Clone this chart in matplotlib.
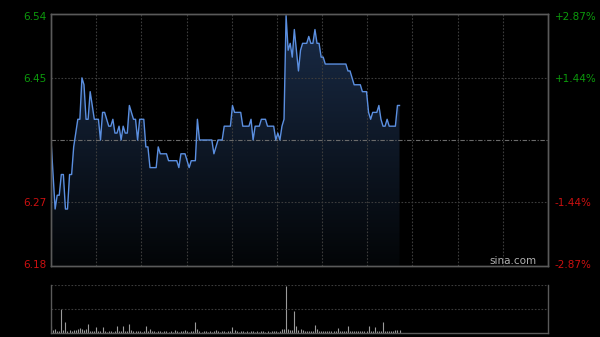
import matplotlib
matplotlib.use('Agg')
import matplotlib.pyplot as plt
import numpy as np
from matplotlib.colors import LinearSegmentedColormap

# previous close and axis range
prev_close = 6.36
y_low = 6.1775
y_high = 6.5425
n_minutes = 242

price_ticks = [6.18, 6.27, 6.45, 6.54]
price_labels = ['6.18', '6.27', '6.45', '6.54']
pct_labels = ['-2.87%', '-1.44%', '+1.44%', '+2.87%']

# minute prices (morning + part of afternoon)
prices = [
    6.36, 6.31, 6.26, 6.28, 6.28, 6.31, 6.31, 6.26, 6.26, 6.31,
    6.31, 6.35, 6.37, 6.39, 6.39, 6.45, 6.44, 6.39, 6.39, 6.43,
    6.41, 6.39, 6.39, 6.39, 6.36, 6.40, 6.40, 6.39, 6.38, 6.38,
    6.39, 6.37, 6.37, 6.38, 6.36, 6.38, 6.37, 6.37, 6.41, 6.40,
    6.39, 6.39, 6.36, 6.39, 6.39, 6.39, 6.35, 6.35, 6.32, 6.32,
    6.32, 6.32, 6.35, 6.34, 6.34, 6.34, 6.34, 6.33, 6.33, 6.33,
    6.33, 6.33, 6.32, 6.34, 6.34, 6.34, 6.33, 6.32, 6.33, 6.33,
    6.33, 6.39, 6.36, 6.36, 6.36, 6.36, 6.36, 6.36, 6.36, 6.34,
    6.35, 6.36, 6.36, 6.36, 6.38, 6.38, 6.38, 6.38, 6.41, 6.40,
    6.40, 6.40, 6.40, 6.38, 6.38, 6.38, 6.38, 6.39, 6.36, 6.38,
    6.38, 6.38, 6.39, 6.39, 6.39, 6.38, 6.38, 6.38, 6.38, 6.36,
    6.37, 6.36, 6.38, 6.39, 6.54, 6.49, 6.50, 6.48, 6.52, 6.49,
    6.46, 6.49, 6.50, 6.50, 6.50, 6.51, 6.50, 6.50, 6.52, 6.50,
    6.50, 6.48, 6.48, 6.47, 6.47, 6.47, 6.47, 6.47, 6.47, 6.47,
    6.47, 6.47, 6.47, 6.47, 6.46, 6.46, 6.45, 6.44, 6.44, 6.44,
    6.44, 6.43, 6.43, 6.43, 6.40, 6.39, 6.40, 6.40, 6.40, 6.41,
    6.39, 6.38, 6.38, 6.39, 6.38, 6.38, 6.38, 6.38, 6.41, 6.41,
]

volumes = [
    700, 300, 400, 200, 150, 2400, 300, 1100, 200, 250,
    200, 250, 300, 400, 500, 400, 300, 400, 850, 200,
    200, 200, 600, 200, 150, 600, 200, 100, 150, 200,
    100, 150, 700, 200, 150, 700, 200, 150, 850, 300,
    150, 200, 150, 150, 100, 150, 700, 200, 400, 150,
    150, 100, 200, 150, 100, 150, 200, 100, 150, 100,
    250, 150, 100, 150, 200, 300, 150, 100, 150, 200,
    1100, 400, 150, 100, 150, 200, 100, 150, 100, 150,
    250, 150, 100, 150, 200, 100, 150, 200, 600, 300,
    150, 100, 150, 200, 100, 150, 100, 150, 200, 100,
    150, 100, 200, 150, 100, 150, 100, 150, 200, 150,
    100, 150, 400, 400, 4700, 400, 300, 300, 2200, 700,
    300, 400, 300, 200, 200, 200, 200, 200, 800, 400,
    200, 150, 200, 150, 200, 150, 200, 150, 200, 500,
    200, 200, 150, 200, 700, 200, 150, 200, 150, 200,
    150, 200, 150, 200, 700, 200, 200, 600, 200, 200,
    200, 1100, 200, 200, 150, 200, 200, 300, 300, 300,
]

minutes = np.arange(len(prices))

fig = plt.figure(figsize=(6, 3.37), dpi=100, facecolor='black')
ax = fig.add_axes([0.085, 0.2107, 0.8283, 0.7478], facecolor='black')
axv = fig.add_axes([0.085, 0.0119, 0.8283, 0.1424], facecolor='black')

frame_col = '#5a5a5a'
grid_col = '#3c3c3c'
green = '#0c9a0c'
red = '#cc1010'

# gradient fill under the price line
poly = ax.fill_between(minutes, prices, y_low, color='none')
grad = np.linspace(0, 1, 256).reshape(-1, 1)
cmap = LinearSegmentedColormap.from_list('fill', ['#030507', '#1a2c48'])
img = ax.imshow(grad, cmap=cmap, aspect='auto', origin='lower',
                extent=[0, n_minutes - 1, y_low, y_high], zorder=1)
img.set_clip_path(poly.get_paths()[0], transform=ax.transData)
poly.remove()

ax.plot(minutes, prices, color='#5b8fe0', lw=1.0, zorder=3)

# grid
vlines_x = [(n_minutes - 1) * i / 11 for i in range(1, 11)]
for xv in vlines_x:
    ax.axvline(xv, color=grid_col, lw=0.8, ls=(0, (1.5, 1.5)), zorder=2)
for yv in [6.27, 6.45]:
    ax.axhline(yv, color=grid_col, lw=0.8, ls=(0, (1.5, 1.5)), zorder=2)
ax.axhline(prev_close, color='#6a6a6a', lw=0.8, ls=(0, (4, 1.5, 1, 1.5)), zorder=2)

ax.set_xlim(0, n_minutes - 1)
ax.set_ylim(y_low, y_high)
ax.set_xticks([])
ax.set_yticks(price_ticks)
ax.set_yticklabels(price_labels, fontsize=7.5)
for lab, c in zip(ax.get_yticklabels(), [red, red, green, green]):
    lab.set_color(c)
ax.tick_params(axis='y', length=0, pad=3)

ax_r = ax.twinx()
ax_r.set_ylim(y_low, y_high)
ax_r.set_yticks(price_ticks)
ax_r.set_yticklabels(pct_labels, fontsize=7.5)
for lab, c in zip(ax_r.get_yticklabels(), [red, red, green, green]):
    lab.set_color(c)
ax_r.tick_params(axis='y', length=0, pad=5)

for a in (ax, ax_r):
    for s in a.spines.values():
        s.set_color(frame_col)
        s.set_linewidth(1)

ax.text(0.978, 0.0, 'sina.com', transform=ax.transAxes, ha='right', va='bottom',
        color='#b0b0b0', fontsize=7.5, zorder=4)

# volume panel
axv.vlines(minutes, 0, volumes, color='#9a9a9a', lw=0.8)
axv.set_xlim(0, n_minutes - 1)
axv.set_ylim(0, 4800)
axv.axhline(2400, color=grid_col, lw=0.8, ls=(0, (1.5, 1.5)))
axv.axhline(4800, color=grid_col, lw=0.8, ls=(0, (1.5, 1.5)))
axv.set_xticks([])
axv.set_yticks([])
for s in axv.spines.values():
    s.set_color(frame_col)
    s.set_linewidth(1)
axv.spines['top'].set_visible(False)

fig.savefig('out.png', dpi=100, facecolor='black')
